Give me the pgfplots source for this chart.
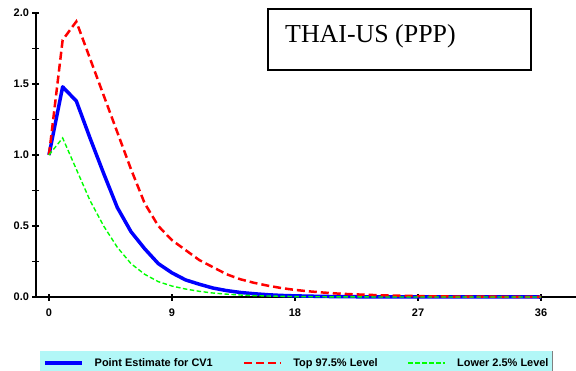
\documentclass[border=0pt]{standalone}
\usepackage{fontspec}
\setmainfont{Liberation Sans}
\newfontfamily\titlefont{Liberation Serif}
\usepackage{pgfplots}
\pgfplotsset{compat=1.18}
\definecolor{legbg}{RGB}{178,247,247}
\begin{document}
\begin{tikzpicture}
\useasboundingbox (-36bp,-74bp) rectangle (540bp,297bp);
\begin{axis}[
  at={(0,0)}, anchor=south west,
  scale only axis, width=540bp, height=284bp,
  xmin=-0.95, xmax=38.56, ymin=0, ymax=2,
  axis x line=bottom, axis y line=left,
  axis line style={line width=1.8bp, -},
  every outer x axis line/.append style={-},
  every outer y axis line/.append style={-},
  xtick={0,9,18,27,36},
  ytick={0,0.5,1,1.5,2},
  minor ytick={0.25,0.75,1.25,1.75},
  tick align=center,
  major tick length=7bp, minor tick length=7bp,
  every tick/.style={black, line width=1.2bp},
  tick label style={font=\fontsize{11}{13}\selectfont\bfseries},
  xticklabel style={yshift=-5bp},
  /pgf/number format/assume math mode=true,
  yticklabel style={/pgf/number format/.cd, fixed, fixed zerofill, precision=1},
  clip=false,
  legend columns=3,
  legend style={at={(axis description cs:0.0074,-0.19)}, anchor=north west,
    fill=legbg, draw=none, inner xsep=3bp, inner ysep=7bp,
    font=\fontsize{11}{13}\selectfont\bfseries,
    nodes={inner sep=0pt},
    /tikz/every odd column/.append style={column sep=11bp},
    /tikz/every even column/.append style={column sep=30bp}},
  legend cell align=left,
  legend image code/.code={\draw[#1] (0bp,0bp) -- (37bp,0bp);},
]
\addplot[blue, line width=3.5bp, line join=round] coordinates {
(0,1.0)(1,1.48)(2,1.38)(3,1.12)(4,0.87)(5,0.63)(6,0.46)(7,0.34)(8,0.235)(9,0.17)
(10,0.12)(11,0.09)(12,0.063)(13,0.045)(14,0.032)(15,0.023)(16,0.016)(17,0.011)
(18,0.008)(19,0.006)(20,0.004)(21,0.003)(22,0.002)(24,0.001)(26,0.0005)(28,0.0003)
(30,0.0002)(32,0.0001)(34,0.0001)(36,0.0)};
\addlegendentry{Point Estimate for CV1}
\addplot[red, line width=2.5bp, dash pattern=on 8bp off 4bp] coordinates {
(0,1.0)(1,1.81)(2,1.94)(3,1.68)(4,1.42)(5,1.16)(6,0.90)(7,0.66)(8,0.50)(9,0.40)
(10,0.33)(11,0.26)(12,0.21)(13,0.16)(14,0.125)(15,0.10)(16,0.08)(17,0.063)
(18,0.05)(19,0.04)(20,0.032)(21,0.025)(22,0.02)(24,0.013)(26,0.008)(28,0.005)
(30,0.003)(32,0.002)(34,0.0015)(36,0.001)};
\addlegendentry{Top 97.5\% Level}
\addplot[green, line width=1.4bp, dash pattern=on 4.5bp off 2.5bp] coordinates {
(0,1.0)(1,1.12)(2,0.90)(3,0.68)(4,0.50)(5,0.35)(6,0.235)(7,0.16)(8,0.108)(9,0.077)
(10,0.056)(11,0.04)(12,0.028)(13,0.02)(14,0.014)(15,0.01)(16,0.007)(17,0.005)
(18,0.003)(20,0.0015)(22,0.0007)(24,0.0003)(28,0.0001)(36,0.0)};
\addlegendentry{Lower 2.5\% Level}
\end{axis}
\draw[gray, line width=1bp] (516.5bp,-54bp) -- (516.5bp,-74bp);
\draw[line width=1.5bp, black] (232bp,227bp) rectangle (495bp,288bp);
\node[anchor=base west, inner sep=0pt, font=\titlefont\fontsize{26}{30}\selectfont] at (249bp,254bp) {THAI-US (PPP)};
\end{tikzpicture}
\end{document}
